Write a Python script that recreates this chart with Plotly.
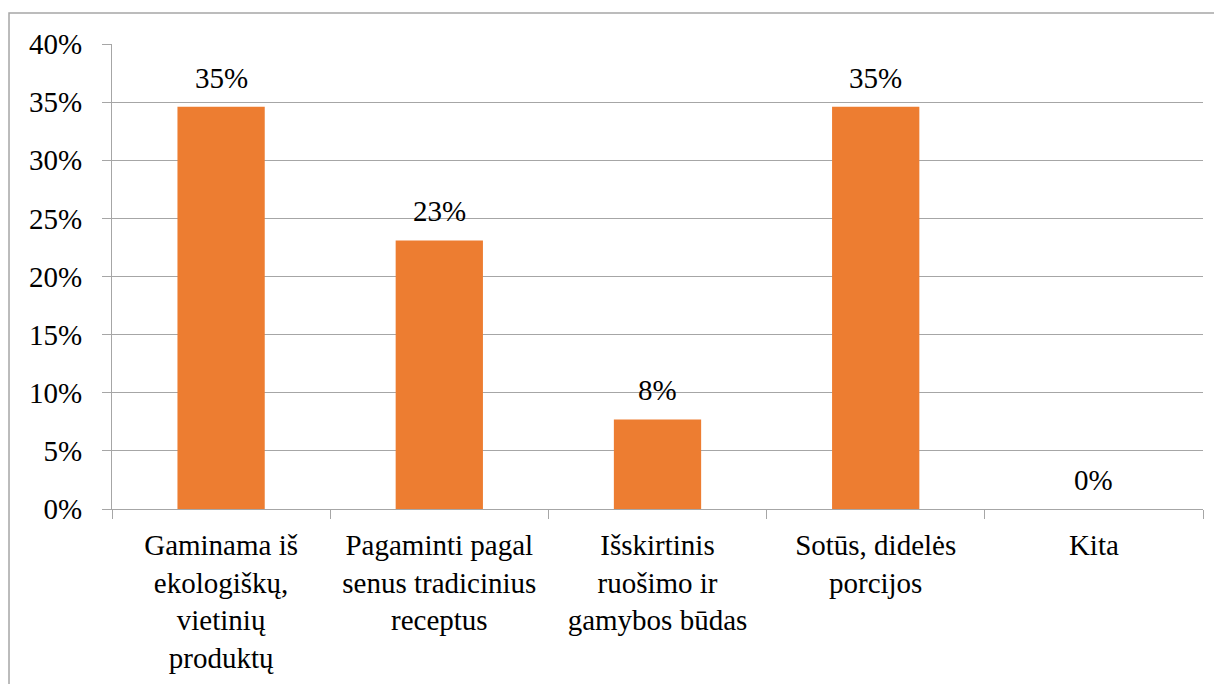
import plotly.graph_objects as go

# survey answers (share of respondents)
categories = [
    "Gaminama iš<br>ekologiškų,<br>vietinių<br>produktų",
    "Pagaminti pagal<br>senus tradicinius<br>receptus",
    "Išskirtinis<br>ruošimo ir<br>gamybos būdas",
    "Sotūs, didelės<br>porcijos",
    "Kita",
]
values = [34.6, 23.1, 7.7, 34.6, 0.0]
y_ticks = [0, 5, 10, 15, 20, 25, 30, 35, 40]
y_tick_labels = [f"{t}%" for t in y_ticks]

serif = dict(family="Liberation Serif, Tinos, serif", size=29, color="black")
grid_color = "#a6a6a6"

fig = go.Figure()
fig.add_trace(go.Bar(
    x=categories,
    y=values,
    marker=dict(color="#ED7D31", line=dict(width=0)),
    width=0.4,
    hoverinfo="skip",
))

# data labels above bars
for c, v in zip(categories, values):
    fig.add_annotation(
        x=c, y=v, text=f"{v:.0f}%", showarrow=False,
        yanchor="bottom", yshift=11,
        font=serif,
    )

# outer chart border (only left/top visible in the crop)
fig.add_shape(
    type="rect", xref="paper", yref="paper",
    x0=-0.0944, x1=1.3, y0=-1.0, y1=1.0667,
    line=dict(color="#a6a6a6", width=1.5),
    fillcolor="rgba(0,0,0,0)", layer="below",
)

# page body has an 8px margin, so margins are shifted to compensate
fig.update_layout(
    width=1222, height=684,
    margin=dict(l=104, r=27, t=36, b=183),
    paper_bgcolor="white", plot_bgcolor="white",
    showlegend=False,
    bargap=0.6,
)
fig.update_xaxes(
    type="category",
    tickson="boundaries",
    ticks="outside", ticklen=9, tickcolor=grid_color, tickwidth=1.3,
    showline=True, linecolor=grid_color, linewidth=1.3,
    showgrid=False,
    ticklabelstandoff=10,
    tickfont=serif,
    fixedrange=True,
)
fig.update_yaxes(
    range=[0, 40],
    tickvals=y_ticks, ticktext=y_tick_labels,
    ticks="outside", ticklen=9, tickcolor=grid_color, tickwidth=1.3,
    showline=True, linecolor=grid_color, linewidth=1.3,
    showgrid=True, gridcolor=grid_color, gridwidth=1.3,
    zeroline=False,
    ticklabelstandoff=14,
    tickfont=serif,
    fixedrange=True,
)

fig.write_html("out.html")
